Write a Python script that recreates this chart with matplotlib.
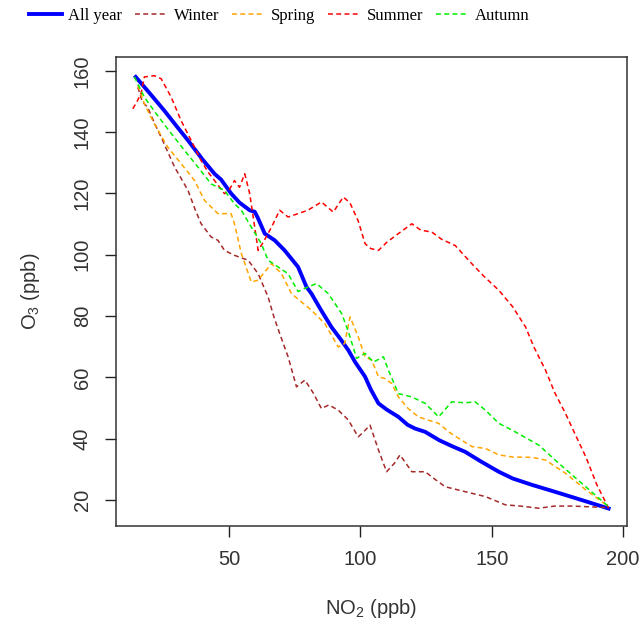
import matplotlib
matplotlib.use("Agg")
import matplotlib.pyplot as plt

plt.rcParams['font.family'] = ['Liberation Sans', 'DejaVu Sans']

# ---- data (NO2 ppb, O3 ppb) ----
all_x = [14.5, 20, 25.4, 30, 34.4, 40, 44.5, 47, 50.8, 54, 57.9, 59.8, 61, 63.6, 67.4,
         71.2, 76.3, 79.5, 81.4, 85, 89, 92, 95.4, 98, 101.8, 104, 106.9, 110, 114.5,
         118, 120.8, 124.7, 130, 135, 139.9, 146, 152.7, 158, 165.4, 172, 178.1, 186, 194.5]
all_y = [158, 152.5, 147, 142, 137.3, 131, 126.4, 124.5, 120, 117, 114.5, 114, 112, 106.9,
         104.7, 101.4, 96, 89.5, 87.3, 82, 76.4, 73, 68.9, 65, 60.2, 56, 51.5, 49.5, 47.1,
         44.5, 43.3, 42.2, 39.5, 37.5, 35.7, 32.5, 29.2, 27, 24.9, 23.2, 21.6, 19.5, 17.2]

winter_x = [15.3, 17, 19.1, 21.6, 24.2, 29.3, 34.4, 37, 39.4, 43.2, 45.8, 48.3, 52.1, 57.3,
            61.1, 64.9, 67, 69.3, 72.5, 75.7, 78.9, 82, 85.2, 88, 91.6, 95.4, 99.2, 101,
            103.7, 106.9, 110, 113, 115.1, 119.6, 124.7, 128, 132.3, 139.9, 147.6, 155.2,
            161, 167.9, 174, 180.6, 194.5]
winter_y = [154.6, 150, 148, 143, 138.3, 128.6, 121, 115, 110.1, 105.8, 104.7, 101.4, 99.8,
            98.2, 93.8, 86.2, 80, 74.3, 66.7, 56.9, 59.1, 55, 49.8, 51, 49.3, 46.1, 40.6, 42,
            44.4, 36.3, 29.2, 32, 34.7, 29.2, 29.2, 27, 24.3, 22.7, 21.1, 18.4, 18, 17.3,
            18, 18, 17.5]

spring_x = [15.3, 17.8, 21.6, 26.7, 31.8, 36.9, 40.7, 45.8, 50.8, 52.1, 54.7, 56.5, 58.5,
            61.1, 66.2, 70, 73.8, 77, 81.4, 86.5, 91.6, 94, 96.1, 99.2, 101.8, 104.3, 106.9,
            109.4, 111.9, 114.5, 118, 122.1, 126, 129.8, 134, 137.4, 142.5, 147.6, 152.7,
            158, 165.4, 170.5, 174, 178.1, 185.8, 194.5]
spring_y = [155.2, 149.2, 142.7, 135.1, 129.7, 124.2, 117.7, 113.4, 113.4, 110.1, 100.4, 96,
            91.1, 91.7, 97.1, 93.8, 87.3, 85, 81.9, 77.5, 69.9, 71, 79.7, 73.2, 66.7, 65.6,
            60.2, 59.6, 58, 53.6, 50, 47.1, 46, 45, 42, 40.1, 37.4, 36.8, 34.7, 34, 33.9, 33,
            31, 28.7, 23.3, 17.8]

summer_x = [13.4, 15, 16.5, 17.8, 21.6, 24.2, 28, 31.8, 35.6, 39.4, 42, 44.5, 48.3, 50,
            52.1, 54, 56, 57.9, 59.8, 61.1, 63, 66.2, 69.3, 72.5, 76.3, 80, 85.2, 89.7, 93.5,
            96, 99.2, 101.8, 104, 106.9, 110, 114.5, 119.6, 123, 127.2, 131, 136.1, 142.5,
            147, 152.7, 158, 162.9, 166, 170.5, 174, 178.1, 182, 185.8, 190, 194.5]
summer_y = [147.6, 150, 152.5, 158, 158.4, 157.4, 151.4, 143.7, 137.3, 130.7, 127, 124.2,
            119.9, 121, 124.2, 122, 126.4, 119.9, 109, 101.4, 104, 109, 114.5, 112.3, 113.4,
            114.5, 117.2, 113.9, 118.8, 117, 111, 103.6, 102, 101.4, 104, 106.9, 110.1, 108,
            107.4, 105, 103, 97, 93, 88.4, 83, 76.4, 70, 62.3, 55, 48.2, 41, 34.1, 25, 17.3]

autumn_x = [14, 17.8, 22.3, 26.7, 33.1, 38.2, 43.2, 48.3, 52.1, 54.7, 58.5, 62.3, 64.9, 68.7,
            72.5, 76.3, 80.2, 83.3, 87.8, 92.9, 95.4, 98.6, 101.8, 105, 108.8, 110.7, 114.5,
            119.6, 124.7, 129.8, 134.8, 139.9, 143.7, 147.6, 152.7, 159, 167.9, 175.6, 185.8,
            194.5]
autumn_y = [158, 151.4, 146, 141, 134, 128.6, 123.1, 121, 116.6, 114.5, 109, 103.6, 98.2, 96,
            93.8, 88, 89.5, 90.6, 87.3, 80.8, 75, 66.2, 67.8, 65, 66.7, 62.3, 54.7, 53.6, 51.5,
            47.1, 52, 51.7, 52, 49.3, 45, 42.2, 37.9, 31.9, 24.3, 17.8]

fig = plt.figure(figsize=(6.41, 6.21), dpi=100)
ax = fig.add_axes([116 / 641, 1 - 526 / 621, 511 / 641, 469 / 621])

dash = (0, (3.2, 2.2))
ax.plot(all_x, all_y, color='#0000ff', lw=2.8, label='All year')
ax.plot(winter_x, winter_y, color='#a52a2a', lw=1.1, ls=dash, label='Winter')
ax.plot(spring_x, spring_y, color='#ffa500', lw=1.1, ls=dash, label='Spring')
ax.plot(summer_x, summer_y, color='#ff0000', lw=1.1, ls=dash, label='Summer')
ax.plot(autumn_x, autumn_y, color='#00ee00', lw=1.1, ls=dash, label='Autumn')

ax.set_xlim(7.0, 201.5)
ax.set_ylim(11.5, 164.5)
ax.set_xticks([50, 100, 150, 200])
ax.set_yticks([20, 40, 60, 80, 100, 120, 140, 160])
ax.tick_params(direction='out', length=8, width=1, pad=9.5, labelsize=14.5,
               colors='#222222', labelcolor='#333333')
for lab in ax.get_yticklabels():
    lab.set_rotation(90)
    lab.set_va('center')
for sp in ax.spines.values():
    sp.set_color('#333333')
    sp.set_linewidth(1.1)

ax.set_xlabel('NO$_\\mathregular{2}$ (ppb)', fontsize=14.5, color='#333333', va='center')
ax.set_ylabel('O$_\\mathregular{3}$ (ppb)', fontsize=14.5, color='#333333', va='center')
ax.xaxis.set_label_coords(0.5, -(608 - 526) / 469)
ax.yaxis.set_label_coords(-(116 - 30) / 511, 0.5)

leg = fig.legend(loc='center left', bbox_to_anchor=(29 / 641, 1 - 16 / 621), ncol=5,
                 frameon=False, borderpad=0, borderaxespad=0, handlelength=2.0,
                 handletextpad=0.35, columnspacing=0.75,
                 prop={'family': 'Liberation Serif', 'size': 12})

fig.savefig('out.png', dpi=100)
